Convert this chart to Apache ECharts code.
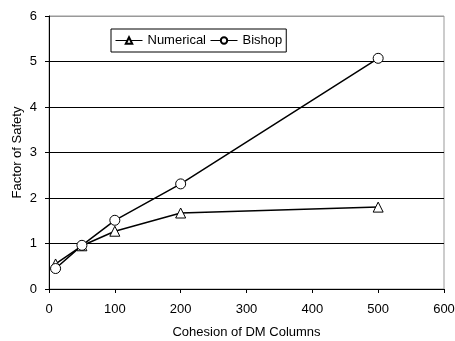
<!DOCTYPE html>
<html>
<head>
<meta charset="utf-8">
<script src="https://cdn.jsdelivr.net/npm/echarts@6/dist/echarts.min.js"></script>
<style>
  html, body { margin: 0; padding: 0; background: #fff; }
  #chart { width: 455px; height: 341px; }
</style>
</head>
<body>
<div id="chart"></div>
<script>
const cohesion = [10, 50, 100, 200, 500]
const numerical = [0.55, 0.95, 1.27, 1.67, 1.80]
const bishop = [0.45, 0.96, 1.51, 2.31, 5.07]

const pairs = (xs, ys) => xs.map((x, i) => [x, ys[i]])

const font = 'Liberation Sans, Arial, sans-serif'
const chart = echarts.init(document.getElementById('chart'), null, {renderer: 'canvas'})

chart.setOption({
    animation: false,
    textStyle: {fontFamily: font},
    grid: {
        left: 49, top: 16, right: 11, bottom: 52,
        outerBoundsMode: 'none',
        show: true, borderColor: '#999', borderWidth: 1
    },
    legend: {
        left: 111, top: 29,
        padding: [5, 4],
        borderColor: '#000', borderWidth: 1,
        itemWidth: 27, itemHeight: 8, itemGap: 4,
        lineStyle: {width: 1},
        textStyle: {fontSize: 13, color: '#000', fontFamily: font},
        data: ['Numerical', 'Bishop']
    },
    xAxis: {
        type: 'value', min: 0, max: 600, interval: 100,
        name: 'Cohesion of DM Columns', nameLocation: 'middle', nameGap: 37,
        nameMoveOverlap: false,
        nameTextStyle: {fontSize: 13, color: '#000', verticalAlign: 'top'},
        axisLine: {lineStyle: {color: '#000'}},
        axisTick: {show: true, inside: false, length: 4, lineStyle: {color: '#000'}},
        axisLabel: {fontSize: 13, color: '#000', margin: 14},
        splitLine: {show: false}
    },
    yAxis: {
        type: 'value', min: 0, max: 6, interval: 1,
        name: 'Factor of Safety', nameLocation: 'middle', nameGap: 25,
        nameMoveOverlap: false,
        nameTextStyle: {fontSize: 13, color: '#000'},
        axisLine: {show: true, lineStyle: {color: '#000'}},
        axisTick: {show: true, inside: false, length: 4, lineStyle: {color: '#000'}},
        axisLabel: {fontSize: 13, color: '#000', margin: 12},
        splitLine: {show: true, lineStyle: {color: ['#000', '#000', '#000', '#000', '#000', '#000', '#999'], width: 1}}
    },
    series: [
        {
            name: 'Numerical', type: 'line',
            data: pairs(cohesion, numerical),
            symbol: 'triangle', symbolSize: 10,
            lineStyle: {color: '#000', width: 1.5},
            itemStyle: {color: '#fff', borderColor: '#000', borderWidth: 1}
        },
        {
            name: 'Bishop', type: 'line',
            data: pairs(cohesion, bishop),
            symbol: 'circle', symbolSize: 10,
            lineStyle: {color: '#000', width: 1.5},
            itemStyle: {color: '#fff', borderColor: '#000', borderWidth: 1}
        }
    ]
})
</script>
</body>
</html>
